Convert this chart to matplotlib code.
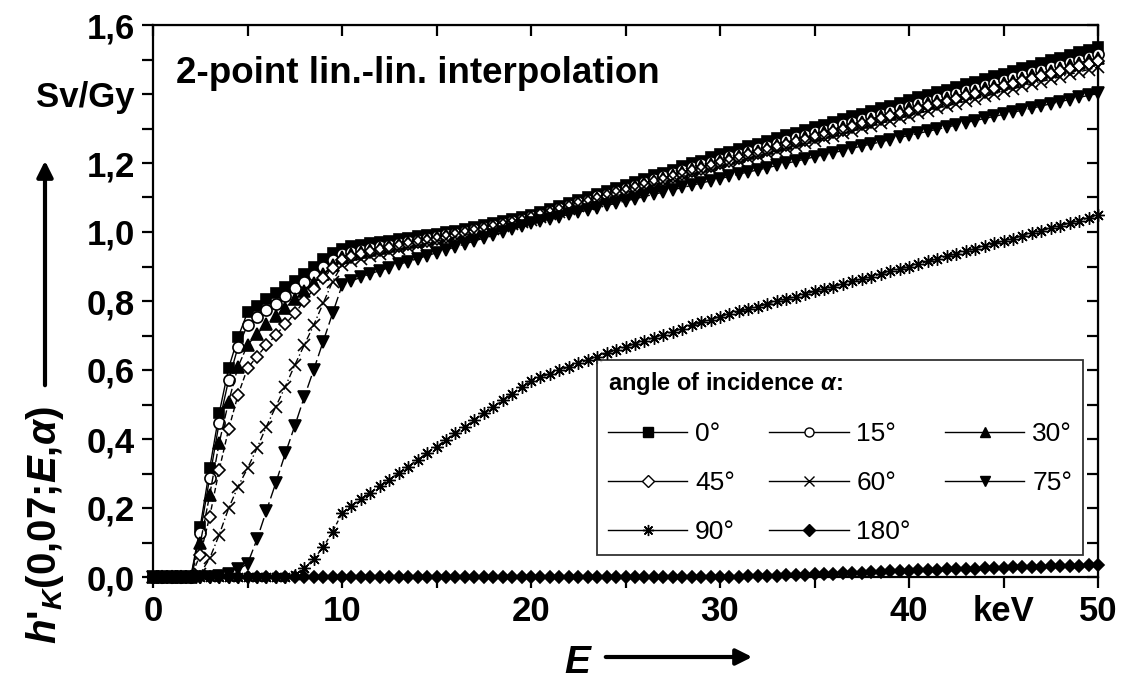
import matplotlib
matplotlib.use("Agg")
import matplotlib.pyplot as plt
from matplotlib.lines import Line2D

plt.rcParams['font.family'] = ['Liberation Sans', 'DejaVu Sans']
plt.rcParams['mathtext.fontset'] = 'custom'
plt.rcParams['mathtext.it'] = 'Liberation Sans:bold:italic'
plt.rcParams['mathtext.rm'] = 'Liberation Sans:bold'
plt.rcParams['mathtext.bf'] = 'Liberation Sans:bold'

# energy grid, 0.5 keV step
E = [i * 0.5 for i in range(101)]

# h'K(0,07;E,alpha) in Sv/Gy
h0 = [0, 0, 0, 0, 0,
      0.146, 0.315, 0.474, 0.605, 0.695, 0.767, 0.786, 0.805, 0.822, 0.840,
      0.859, 0.878, 0.899, 0.921, 0.938, 0.952,
      0.958, 0.963, 0.967, 0.971, 0.975, 0.979, 0.983, 0.987, 0.991, 0.995,
      0.999, 1.004, 1.009, 1.014, 1.019, 1.025, 1.031, 1.037, 1.043, 1.050,
      1.058, 1.066, 1.075, 1.083, 1.092, 1.101, 1.110, 1.119, 1.128, 1.137,
      1.146, 1.155, 1.164, 1.172, 1.181, 1.190, 1.199, 1.207, 1.216, 1.225,
      1.233, 1.241, 1.249, 1.256, 1.264, 1.272, 1.280, 1.288, 1.296, 1.304,
      1.311, 1.319, 1.327, 1.335, 1.343, 1.351, 1.358, 1.366, 1.374, 1.382,
      1.390, 1.397, 1.405, 1.413, 1.420, 1.428, 1.436, 1.444, 1.451, 1.459,
      1.467, 1.474, 1.482, 1.490, 1.498, 1.505, 1.513, 1.521, 1.528, 1.536]
h15 = [0, 0, 0, 0, 0,
       0.128, 0.288, 0.447, 0.571, 0.667, 0.730, 0.753, 0.774, 0.791, 0.814,
       0.837, 0.856, 0.875, 0.899, 0.918, 0.935,
       0.942, 0.948, 0.953, 0.958, 0.963, 0.968, 0.973, 0.978, 0.983, 0.988,
       0.993, 0.998, 1.003, 1.008, 1.014, 1.020, 1.026, 1.032, 1.038, 1.045,
       1.053, 1.061, 1.069, 1.077, 1.086, 1.094, 1.103, 1.111, 1.120, 1.128,
       1.137, 1.145, 1.154, 1.162, 1.170, 1.179, 1.187, 1.196, 1.204, 1.212,
       1.220, 1.227, 1.235, 1.243, 1.250, 1.258, 1.266, 1.274, 1.281, 1.289,
       1.297, 1.304, 1.312, 1.320, 1.328, 1.335, 1.343, 1.351, 1.358, 1.366,
       1.373, 1.381, 1.388, 1.396, 1.403, 1.411, 1.418, 1.426, 1.433, 1.441,
       1.448, 1.456, 1.463, 1.470, 1.478, 1.485, 1.493, 1.500, 1.508, 1.515]
h30 = [0, 0, 0, 0, 0,
       0.098, 0.238, 0.388, 0.508, 0.610, 0.672, 0.705, 0.732, 0.757, 0.781,
       0.805, 0.829, 0.853, 0.878, 0.903, 0.928,
       0.936, 0.942, 0.948, 0.954, 0.959, 0.964, 0.970, 0.975, 0.980, 0.985,
       0.990, 0.996, 1.001, 1.006, 1.012, 1.018, 1.024, 1.030, 1.036, 1.043,
       1.050, 1.058, 1.066, 1.074, 1.083, 1.091, 1.099, 1.107, 1.116, 1.124,
       1.132, 1.141, 1.149, 1.157, 1.165, 1.174, 1.182, 1.190, 1.198, 1.206,
       1.214, 1.221, 1.229, 1.236, 1.244, 1.252, 1.259, 1.267, 1.274, 1.282,
       1.290, 1.297, 1.305, 1.312, 1.320, 1.328, 1.335, 1.343, 1.350, 1.358,
       1.365, 1.373, 1.380, 1.387, 1.395, 1.402, 1.409, 1.417, 1.424, 1.432,
       1.439, 1.446, 1.454, 1.461, 1.468, 1.476, 1.483, 1.490, 1.498, 1.505]
h45 = [0, 0, 0, 0, 0,
       0.064, 0.175, 0.310, 0.428, 0.528, 0.605, 0.639, 0.672, 0.701, 0.733,
       0.764, 0.800, 0.834, 0.866, 0.895, 0.920,
       0.928, 0.935, 0.941, 0.947, 0.953, 0.959, 0.964, 0.970, 0.975, 0.981,
       0.986, 0.992, 0.997, 1.003, 1.009, 1.015, 1.021, 1.027, 1.033, 1.040,
       1.048, 1.056, 1.064, 1.072, 1.080, 1.088, 1.096, 1.104, 1.112, 1.120,
       1.128, 1.136, 1.144, 1.152, 1.160, 1.168, 1.176, 1.184, 1.192, 1.200,
       1.207, 1.215, 1.222, 1.230, 1.237, 1.245, 1.252, 1.260, 1.267, 1.275,
       1.282, 1.290, 1.297, 1.305, 1.312, 1.320, 1.327, 1.335, 1.342, 1.349,
       1.356, 1.364, 1.371, 1.378, 1.386, 1.393, 1.400, 1.407, 1.415, 1.422,
       1.429, 1.437, 1.444, 1.451, 1.458, 1.466, 1.473, 1.480, 1.488, 1.495]
h60 = [0, 0, 0, 0, 0,
       0.010, 0.054, 0.122, 0.199, 0.262, 0.315, 0.373, 0.436, 0.494, 0.552,
       0.614, 0.672, 0.730, 0.793, 0.856, 0.905,
       0.915, 0.923, 0.930, 0.937, 0.943, 0.950, 0.956, 0.962, 0.968, 0.974,
       0.980, 0.986, 0.992, 0.998, 1.004, 1.010, 1.016, 1.022, 1.029, 1.035,
       1.043, 1.051, 1.059, 1.066, 1.074, 1.082, 1.090, 1.098, 1.106, 1.114,
       1.121, 1.129, 1.137, 1.145, 1.153, 1.161, 1.168, 1.176, 1.184, 1.192,
       1.199, 1.206, 1.214, 1.221, 1.228, 1.236, 1.243, 1.250, 1.257, 1.265,
       1.272, 1.279, 1.286, 1.294, 1.301, 1.308, 1.315, 1.323, 1.330, 1.337,
       1.344, 1.351, 1.358, 1.365, 1.372, 1.379, 1.386, 1.393, 1.400, 1.408,
       1.415, 1.422, 1.429, 1.436, 1.443, 1.450, 1.457, 1.464, 1.471, 1.478]
h75 = [0, 0, 0, 0, 0, 0, 0,
       0.003, 0.010, 0.022, 0.038, 0.109, 0.192, 0.273, 0.358,
       0.438, 0.521, 0.600, 0.682, 0.764, 0.845,
       0.858, 0.869, 0.879, 0.888, 0.897, 0.906, 0.914, 0.923, 0.931, 0.940,
       0.948, 0.957, 0.965, 0.974, 0.982, 0.991, 0.999, 1.008, 1.016, 1.025,
       1.031, 1.038, 1.044, 1.051, 1.057, 1.064, 1.070, 1.077, 1.083, 1.090,
       1.096, 1.103, 1.109, 1.116, 1.122, 1.129, 1.135, 1.142, 1.148, 1.155,
       1.161, 1.168, 1.174, 1.180, 1.186, 1.193, 1.199, 1.205, 1.211, 1.218,
       1.224, 1.230, 1.236, 1.243, 1.249, 1.255, 1.261, 1.268, 1.274, 1.280,
       1.286, 1.292, 1.298, 1.304, 1.310, 1.317, 1.323, 1.329, 1.335, 1.341,
       1.347, 1.353, 1.359, 1.365, 1.372, 1.378, 1.384, 1.390, 1.396, 1.402]
h90 = [0, 0, 0, 0, 0, 0, 0, 0, 0, 0, 0, 0, 0, 0, 0,
       0.006, 0.026, 0.052, 0.086, 0.131, 0.185,
       0.206, 0.225, 0.244, 0.263, 0.282, 0.301, 0.320, 0.340, 0.359, 0.378,
       0.397, 0.416, 0.435, 0.454, 0.474, 0.493, 0.512, 0.531, 0.550, 0.569,
       0.579, 0.589, 0.599, 0.609, 0.619, 0.629, 0.639, 0.648, 0.658, 0.667,
       0.676, 0.685, 0.694, 0.702, 0.711, 0.720, 0.729, 0.738, 0.746, 0.755,
       0.762, 0.770, 0.777, 0.784, 0.791, 0.799, 0.806, 0.813, 0.820, 0.828,
       0.835, 0.842, 0.849, 0.857, 0.864, 0.871, 0.878, 0.886, 0.893, 0.900,
       0.907, 0.915, 0.922, 0.930, 0.937, 0.944, 0.952, 0.959, 0.967, 0.974,
       0.981, 0.989, 0.996, 1.004, 1.011, 1.018, 1.026, 1.033, 1.041, 1.048]
h180 = [0, 0, 0, 0, 0, 0, 0, 0, 0, 0, 0, 0, 0, 0, 0, 0, 0, 0, 0, 0,
        0, 0, 0, 0, 0, 0, 0, 0, 0, 0, 0, 0, 0, 0, 0, 0, 0, 0, 0, 0,
        0, 0, 0, 0, 0, 0, 0, 0, 0, 0, 0, 0, 0, 0, 0, 0, 0, 0, 0, 0, 0,
        0.001, 0.001, 0.002, 0.003, 0.004, 0.004, 0.005, 0.006, 0.007, 0.008,
        0.009, 0.010, 0.011, 0.012, 0.013, 0.014, 0.015, 0.016, 0.017, 0.018,
        0.019, 0.020, 0.021, 0.022, 0.022, 0.023, 0.024, 0.025, 0.026, 0.027,
        0.028, 0.029, 0.029, 0.030, 0.031, 0.032, 0.033, 0.033, 0.034, 0.035]

angles = ['0°', '15°', '30°', '45°', '60°', '75°', '90°', '180°']
series = [h0, h15, h30, h45, h60, h75, h90, h180]
markers = ['s', 'o', '^', 'D', 'x', 'v', 'star', 'D']
fills = ['k', 'w', 'k', 'w', 'k', 'k', 'k', 'k']
msizes = [7.0, 8.0, 8.5, 6.5, 8.0, 8.5, 9.0, 6.5]
styles = ['-', '-', (0, (6, 2)), (0, (4, 2)), (0, (5, 2, 1, 2)), (0, (9, 3)), (0, (3, 2)), '-']

fig = plt.figure(figsize=(11.21, 6.84), dpi=100)
ax = fig.add_axes([153 / 1121, 1 - 577 / 684, 945 / 1121, 552 / 684])

for y, m, fc, ms, ls in zip(series, markers, fills, msizes, styles):
    if m == 'star':
        ax.plot(E, y, ls=ls, color='k', lw=1.0, marker=(8, 2, 0), ms=ms,
                mec='k', mew=1.0, clip_on=False, zorder=3)
        ax.plot(E, y, ls='none', marker='s', ms=2.5, color='k',
                clip_on=False, zorder=3)
    elif m == 'x':
        ax.plot(E, y, ls=ls, color='k', lw=1.0, marker='x', ms=ms,
                mec='k', mew=1.2, clip_on=False, zorder=3)
    else:
        ax.plot(E, y, ls=ls, color='k', lw=1.0, marker=m, ms=ms,
                mfc=fc, mec='k', mew=1.2, clip_on=False, zorder=3)

ax.set_xlim(0, 50)
ax.set_ylim(0, 1.6)

ax.set_xticks([0, 10, 20, 30, 40, 45, 50])
ax.set_xticklabels(['0', '10', '20', '30', '40', 'keV', '50'])
ax.set_xticks([5, 15, 25, 35], minor=True)
yt = [0, 0.2, 0.4, 0.6, 0.8, 1.0, 1.2, 1.4, 1.6]
ylab = ['0,0', '0,2', '0,4', '0,6', '0,8', '1,0', '1,2', 'Sv/Gy', '1,6']
ax.set_yticks(yt)
ax.set_yticklabels(ylab)
ax.set_yticks([0.1, 0.3, 0.5, 0.7, 0.9, 1.1, 1.3, 1.5], minor=True)
ax.tick_params(which='both', direction='out', length=8, width=1.6,
               labelsize=25, pad=5)
for lab in ax.get_xticklabels() + ax.get_yticklabels():
    lab.set_fontweight('bold')
for sp in ax.spines.values():
    sp.set_linewidth(1.6)

top = ax.secondary_xaxis('top')
top.set_xticks([0, 5, 10, 15, 20, 25, 30, 35, 40, 45, 50])
top.tick_params(direction='in', length=8, width=1.6, labeltop=False)
right = ax.secondary_yaxis('right')
right.set_yticks([0.1 * i for i in range(17)])
right.tick_params(direction='in', length=8, width=1.6, labelright=False)

ax.text(1.2, 1.46, '2-point lin.-lin. interpolation', fontsize=26.5,
        fontweight='bold', va='center', ha='left')

# axis labels with arrows
fig.text(45 / 1121, 1 - 525 / 684, r"$h$'$_K$(0,07;$E$,$\alpha$)", rotation=90,
         fontsize=29, fontweight='bold', ha='center', va='center')
fig.text(578 / 1121, 1 - 663 / 684, r"$E$", fontsize=28, ha='center', va='center')
fig.add_artist(matplotlib.patches.FancyArrowPatch(
    (45 / 1121, 1 - 388 / 684), (45 / 1121, 1 - 158 / 684),
    transform=fig.transFigure, arrowstyle='-|>', mutation_scale=24,
    lw=3, color='k'))
fig.add_artist(matplotlib.patches.FancyArrowPatch(
    (603 / 1121, 1 - 657 / 684), (755 / 1121, 1 - 657 / 684),
    transform=fig.transFigure, arrowstyle='-|>', mutation_scale=24,
    lw=3, color='k'))

handles = []
for m, fc, lab in zip(markers, fills, angles):
    if m == 'star':
        h = Line2D([], [], color='k', lw=1.0, marker=(8, 2, 0), ms=8, mec='k', label=lab)
    elif m == 'x':
        h = Line2D([], [], color='k', lw=1.0, marker='x', ms=7, mec='k', label=lab)
    else:
        h = Line2D([], [], color='k', lw=1.0, marker=m, ms=6.5, mfc=fc, mec='k',
                   mew=1.0, label=lab)
    handles.append(h)
# legend fills column by column: reorder so that rows read 0,15,30 / 45,60,75 / 90,180
order = [0, 3, 6, 1, 4, 7, 2, 5]
handles = [handles[i] for i in order]

leg = ax.legend(handles=handles, ncol=3, loc='lower right',
                bbox_to_anchor=(0.984, 0.04), borderaxespad=0, frameon=True,
                fancybox=False, edgecolor='k', fontsize=19,
                title=r'angle of incidence $\alpha$:',
                title_fontproperties={'weight': 'bold', 'size': 17},
                alignment='left', handlelength=3.0, handletextpad=0.3,
                columnspacing=1.3, labelspacing=0.95, borderpad=0.4)
leg.get_frame().set_linewidth(1.3)

fig.savefig('out.png', dpi=100)
